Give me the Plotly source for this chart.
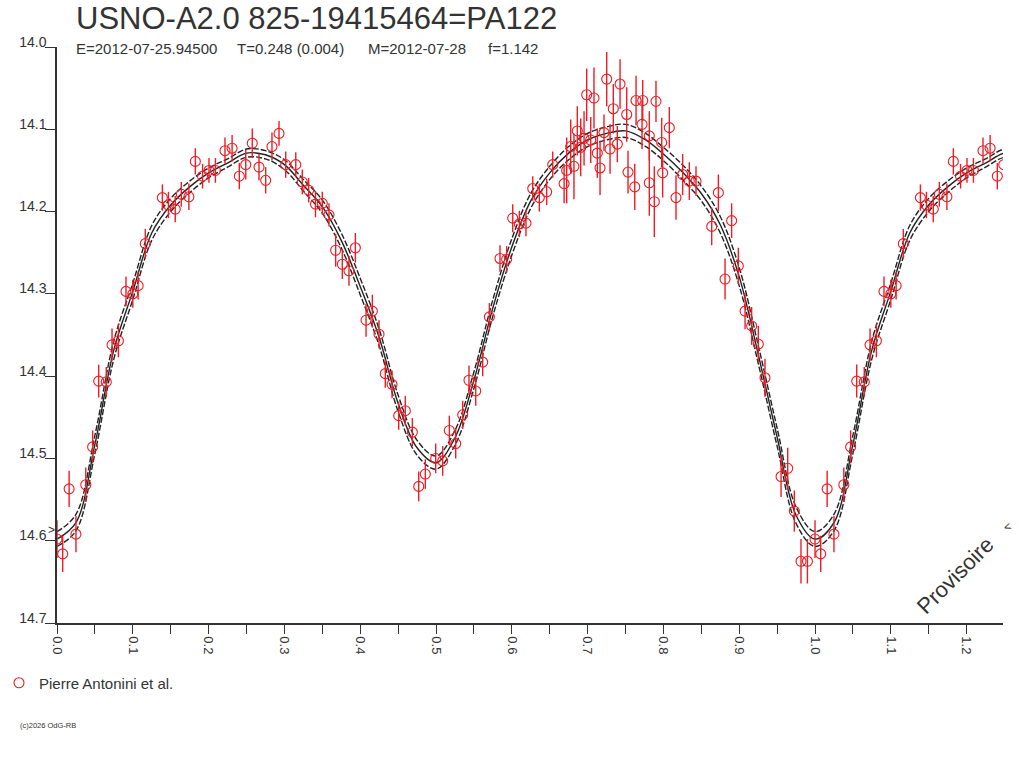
import numpy as np
import plotly.graph_objects as go

# observations (phase, magnitude, error) - Pierre Antonini et al.
phase = [0.000, 0.0075, 0.016, 0.025, 0.038, 0.047, 0.055, 0.065, 0.0726, 0.081,
         0.091, 0.100, 0.107, 0.1165, 0.139, 0.147, 0.156, 0.164, 0.174, 0.1825,
         0.192, 0.2005, 0.209, 0.2216, 0.231, 0.2405, 0.249, 0.2576, 0.2665, 0.2753,
         0.2836, 0.2929, 0.3017, 0.315, 0.3236, 0.332, 0.341, 0.350, 0.3588, 0.3676,
         0.3764, 0.3852, 0.3936, 0.4077, 0.416, 0.4248, 0.4331, 0.442, 0.4508, 0.4595,
         0.4688, 0.4772, 0.4859, 0.4996, 0.5088, 0.5176, 0.526, 0.5352, 0.5435, 0.5524,
         0.5616, 0.5704, 0.5844, 0.5932, 0.6012, 0.610, 0.6187, 0.6276, 0.6363, 0.646,
         0.654, 0.669, 0.6724, 0.6777, 0.682, 0.6864, 0.6909, 0.6953, 0.6988, 0.7041,
         0.7084, 0.7128, 0.7164, 0.7216, 0.7252, 0.7296, 0.7339, 0.7392, 0.7428, 0.7516,
         0.7533, 0.7622, 0.7639, 0.7727, 0.7718, 0.7814, 0.7814, 0.788, 0.7902, 0.7977,
         0.799, 0.8078, 0.8166, 0.8254, 0.8342, 0.843, 0.8637, 0.8725, 0.8813, 0.890,
         0.8988, 0.9077, 0.9164, 0.9252, 0.934, 0.9552, 0.964, 0.9727, 0.9815, 0.990]
mag = [14.598, 14.616, 14.537, 14.592, 14.532, 14.486, 14.406, 14.407, 14.362, 14.357,
       14.297, 14.300, 14.290, 14.239, 14.183, 14.192, 14.197, 14.179, 14.182, 14.139,
       14.157, 14.150, 14.150, 14.126, 14.123, 14.157, 14.143, 14.117, 14.146, 14.162,
       14.121, 14.105, 14.143, 14.143, 14.164, 14.174, 14.191, 14.190, 14.204, 14.247,
       14.264, 14.272, 14.244, 14.332, 14.321, 14.349, 14.397, 14.410, 14.448, 14.442,
       14.468, 14.534, 14.519, 14.500, 14.503, 14.466, 14.482, 14.447, 14.405, 14.418,
       14.383, 14.328, 14.257, 14.258, 14.208, 14.215, 14.214, 14.172, 14.183, 14.176,
       14.143, 14.166, 14.150, 14.121, 14.145, 14.102, 14.122, 14.111, 14.058, 14.113,
       14.062, 14.129, 14.147, 14.104, 14.039, 14.124, 14.075, 14.118, 14.045, 14.082,
       14.152, 14.170, 14.065, 14.065, 14.094, 14.165, 14.108, 14.188, 14.066, 14.116,
       14.153, 14.098, 14.183, 14.155, 14.163, 14.163, 14.218, 14.177, 14.282, 14.211,
       14.266, 14.321, 14.339, 14.361, 14.402, 14.522, 14.512, 14.564, 14.625, 14.625]
err = [0.023, 0.022, 0.022, 0.022, 0.021, 0.020, 0.020, 0.018, 0.020, 0.020,
       0.018, 0.017, 0.017, 0.018, 0.016, 0.016, 0.016, 0.015, 0.016, 0.016,
       0.015, 0.015, 0.015, 0.016, 0.016, 0.016, 0.018, 0.018, 0.016, 0.016,
       0.017, 0.015, 0.016, 0.015, 0.015, 0.015, 0.016, 0.014, 0.014, 0.020,
       0.018, 0.018, 0.018, 0.020, 0.020, 0.017, 0.017, 0.017, 0.017, 0.018,
       0.017, 0.018, 0.018, 0.018, 0.018, 0.018, 0.018, 0.017, 0.018, 0.018,
       0.017, 0.017, 0.016, 0.016, 0.017, 0.016, 0.016, 0.015, 0.017, 0.016,
       0.016, 0.024, 0.040, 0.033, 0.040, 0.030, 0.035, 0.033, 0.032, 0.028,
       0.037, 0.030, 0.033, 0.022, 0.033, 0.030, 0.030, 0.022, 0.030, 0.033,
       0.026, 0.028, 0.030, 0.025, 0.030, 0.040, 0.030, 0.043, 0.025, 0.030,
       0.030, 0.025, 0.027, 0.025, 0.023, 0.018, 0.023, 0.022, 0.025, 0.021,
       0.022, 0.022, 0.023, 0.022, 0.023, 0.025, 0.025, 0.025, 0.027, 0.027]

# fitted light curve (middle) and its envelope, read every 0.025 in phase
curve_phase = [0.000, 0.025, 0.050, 0.075, 0.100, 0.125, 0.150, 0.175, 0.200, 0.225,
               0.250, 0.275, 0.300, 0.325, 0.350, 0.375, 0.400, 0.425, 0.450, 0.475,
               0.500, 0.525, 0.550, 0.575, 0.600, 0.625, 0.650, 0.675, 0.700, 0.725,
               0.750, 0.775, 0.800, 0.825, 0.850, 0.875, 0.900, 0.925, 0.950, 0.975,
               1.000]
curve_mid = [14.598, 14.578, 14.483, 14.368, 14.297, 14.226, 14.192, 14.170, 14.153, 14.141,
             14.129, 14.131, 14.143, 14.168, 14.194, 14.235, 14.291, 14.353, 14.433, 14.487,
             14.505, 14.475, 14.405, 14.317, 14.243, 14.187, 14.153, 14.129, 14.113, 14.105,
             14.102, 14.112, 14.130, 14.152, 14.178, 14.216, 14.279, 14.373, 14.474, 14.569,
             14.598]
curve_up = [14.589, 14.568, 14.472, 14.357, 14.287, 14.217, 14.184, 14.163, 14.147, 14.136,
            14.124, 14.126, 14.137, 14.161, 14.186, 14.226, 14.281, 14.343, 14.423, 14.478,
            14.497, 14.466, 14.395, 14.307, 14.233, 14.178, 14.145, 14.121, 14.105, 14.097,
            14.094, 14.104, 14.122, 14.143, 14.169, 14.206, 14.268, 14.362, 14.463, 14.559,
            14.589]
curve_low = [14.607, 14.588, 14.494, 14.379, 14.307, 14.235, 14.200, 14.177, 14.159, 14.146,
             14.134, 14.136, 14.149, 14.175, 14.202, 14.244, 14.301, 14.363, 14.443, 14.496,
             14.513, 14.484, 14.415, 14.327, 14.253, 14.196, 14.161, 14.137, 14.121, 14.113,
             14.110, 14.120, 14.138, 14.161, 14.187, 14.226, 14.290, 14.384, 14.485, 14.579,
             14.607]

x_ticks = [0.0, 0.1, 0.2, 0.3, 0.4, 0.5, 0.6, 0.7, 0.8, 0.9, 1.0, 1.1, 1.2]
y_ticks = [14.0, 14.1, 14.2, 14.3, 14.4, 14.5, 14.6, 14.7]

title = 'USNO-A2.0 825-19415464=PA122'
info = ['E=2012-07-25.94500', 'T=0.248 (0.004)', 'M=2012-07-28', 'f=1.142']
observer = 'Pierre Antonini et al.'

# phase wraps past 1.0 - repeat the start of the cycle
ph = np.array(phase)
mg = np.array(mag)
er = np.array(err)
wrap = ph < 0.25
px = np.concatenate([ph, ph[wrap] + 1])
py_ = np.concatenate([mg, mg[wrap]])
pe = np.concatenate([er, er[wrap]])

cp = np.array(curve_phase)
cwrap = (cp > 0) & (cp <= 0.3)
cx = np.concatenate([cp, cp[cwrap] + 1])


def ext(vals):
    v = np.array(vals)
    return np.concatenate([v, v[cwrap]])


# plot box in page pixels (body margin is reset to 0 below)
L, T, W, H = 57, 47, 946, 576


def sx(p):
    return (p - L) / W


def sy(p):
    return 1 - (p - T) / H


FONT = 'Liberation Sans, Arial, sans-serif'
INK = '#333333'
RED = '#ee1c24'

fig = go.Figure()
for vals, dash in [(curve_up, '6px,2px'), (curve_low, '6px,2px'), (curve_mid, 'solid')]:
    fig.add_trace(go.Scatter(x=cx, y=ext(vals), mode='lines', showlegend=False,
                             line=dict(color='#222222', width=1.4, dash=dash,
                                       shape='spline', smoothing=1.0),
                             hoverinfo='skip'))
fig.add_trace(go.Scatter(x=px, y=py_, mode='markers', name=observer,
                         marker=dict(symbol='circle-open', size=10,
                                     color=RED, line=dict(width=1.1, color=RED)),
                         error_y=dict(type='data', array=pe, color=RED,
                                      thickness=1.4, width=0)))

fig.update_layout(
    width=1024, height=768,
    margin=dict(l=L, r=1024 - L - W, t=T, b=768 - T - H, autoexpand=False),
    paper_bgcolor='white', plot_bgcolor='white',
    font=dict(family=FONT, color=INK, size=12),
    showlegend=True,
    legend=dict(xref='paper', yref='paper', x=(-1 - L) / W, y=sy(683),
                xanchor='left', yanchor='middle', itemwidth=30,
                font=dict(size=15, color=INK), bgcolor='rgba(0,0,0,0)'),
)
fig.update_xaxes(range=[0, 1.248], tickvals=x_ticks, tickformat='.1f',
                 tickangle=90, ticks='outside', ticklen=9, tickcolor=INK,
                 showline=True, linecolor=INK, linewidth=1.5, showgrid=False,
                 zeroline=False, tickfont=dict(size=13, color=INK),
                 minor=dict(dtick=0.05, tick0=0, ticks='outside', ticklen=9,
                            tickcolor=INK, showgrid=False))
fig.update_yaxes(range=[14.7, 14.0], tickvals=y_ticks, tickformat='.1f',
                 ticks='outside', ticklen=10, tickcolor=INK,
                 ticklabelposition='outside top', ticklabelstandoff=6,
                 ticklabelshift=-5,
                 showline=True, linecolor=INK, linewidth=1.5, showgrid=False,
                 zeroline=False, tickfont=dict(size=14, color=INK))

ann = [dict(text=title, x=75, y=19, size=31)]
for txt, xpos in zip(info, [75, 236, 367, 487]):
    ann.append(dict(text=txt, x=xpos, y=48, size=15))
for a in ann:
    fig.add_annotation(text=a['text'], xref='paper', yref='paper',
                       x=sx(a['x']), y=sy(a['y']), borderpad=0,
                       xanchor='left', yanchor='middle', showarrow=False,
                       font=dict(size=a['size'], color=INK, family=FONT))

fig.add_annotation(text='Provisoire', xref='paper', yref='paper',
                   x=sx(955), y=sy(575), showarrow=False,
                   xanchor='center', yanchor='middle',
                   textangle=-45, font=dict(size=22, color=INK, family=FONT))
fig.add_annotation(text='<', xref='paper', yref='paper',
                   x=sx(1007), y=sy(527), showarrow=False,
                   xanchor='center', yanchor='middle',
                   textangle=-20, font=dict(size=12, color=INK, family=FONT))
fig.add_annotation(text='>', xref='paper', yref='paper',
                   x=sx(51), y=sy(530), showarrow=False,
                   xanchor='center', yanchor='middle',
                   font=dict(size=12, color=INK, family=FONT))
fig.add_annotation(text='(c)2026 OdG-RB', xref='paper', yref='paper',
                   x=sx(18), y=sy(725), showarrow=False,
                   xanchor='left', yanchor='middle',
                   font=dict(size=7.5, color=INK, family=FONT))

fig.write_html('out.html', config={'displayModeBar': False},
               post_script="document.body.style.margin='0px';")
